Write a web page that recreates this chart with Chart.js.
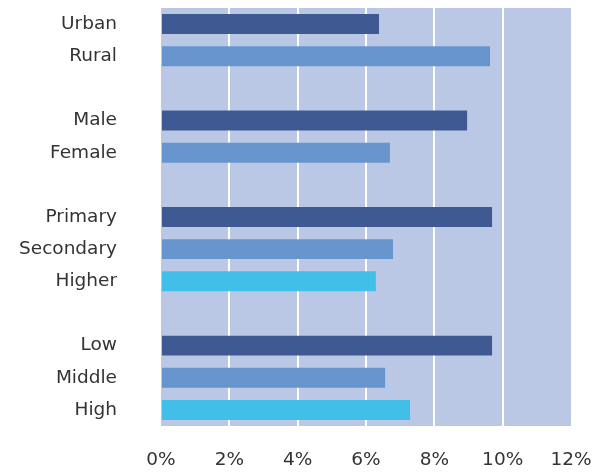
<!DOCTYPE html>
<html>
<head>
<meta charset="utf-8">
<script src="https://cdn.jsdelivr.net/npm/chart.js@4/dist/chart.umd.min.js"></script>
<style>
  html, body { margin: 0; padding: 0; background: #fff; }
</style>
</head>
<body>
<canvas id="chart" width="597" height="472"></canvas>
<script>
// categories (blank labels are the gaps between groups)
const categories = ['Urban', 'Rural', '', 'Male', 'Female', '', 'Primary', 'Secondary', 'Higher', '', 'Low', 'Middle', 'High'];
// share, percent
const values = [6.38, 9.63, null, 8.96, 6.70, null, 9.69, 6.79, 6.29, null, 9.69, 6.56, 7.29];
// colour per bar: 0 dark, 1 mid, 2 light
const shade = [0, 1, null, 0, 1, null, 0, 1, 2, null, 0, 1, 2];
const xTicks = [0, 2, 4, 6, 8, 10, 12];

const palette = ['#3f5a93', '#6794cd', '#41bfe9'];
const plotBg = '#bac8e6';
const font = { family: "'DejaVu Sans', sans-serif", size: 18.5 };

// fill the plot area
const plotBackground = {
  id: 'plotBackground',
  beforeDraw(chart) {
    const { ctx, chartArea: a } = chart;
    ctx.save();
    ctx.fillStyle = plotBg;
    ctx.fillRect(a.left, a.top, a.right - a.left, a.bottom - a.top);
    ctx.restore();
  }
};

new Chart(document.getElementById('chart'), {
  type: 'bar',
  data: {
    labels: categories,
    datasets: [{
      data: values,
      backgroundColor: shade.map(s => s === null ? 'transparent' : palette[s]),
      categoryPercentage: 1,
      barPercentage: 0.62
    }]
  },
  options: {
    indexAxis: 'y',
    responsive: false,
    animation: false,
    layout: { padding: { top: 8, right: 26, left: 0, bottom: 0 } },
    scales: {
      x: {
        min: 0,
        max: 12,
        afterBuildTicks(axis) {
          axis.ticks = xTicks.map(v => ({ value: v }));
        },
        afterFit(axis) {
          axis.height = 46;
          axis.paddingLeft = 0;
          axis.paddingRight = 0;
        },
        grid: {
          // no white line on the left and right edges
          color: c => (c.tick && (c.tick.value === 0 || c.tick.value === 12)) ? 'rgba(0,0,0,0)' : '#ffffff',
          lineWidth: 2,
          drawTicks: false
        },
        border: { display: false },
        ticks: {
          padding: 23,
          color: '#333',
          font: font,
          maxRotation: 0,
          callback: v => v + '%'
        }
      },
      y: {
        afterFit(axis) {
          axis.width = 161;
          axis.paddingTop = 0;
          axis.paddingBottom = 0;
        },
        grid: { display: false, drawTicks: false },
        border: { display: false },
        ticks: {
          autoSkip: false,
          padding: 44,
          color: '#333',
          font: font
        }
      }
    },
    plugins: {
      legend: { display: false },
      tooltip: { enabled: false }
    }
  },
  plugins: [plotBackground]
});
</script>
</body>
</html>
